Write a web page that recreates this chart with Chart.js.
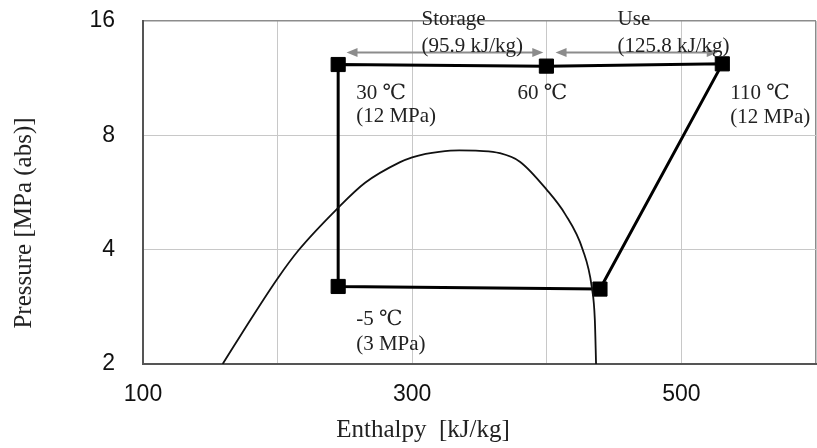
<!DOCTYPE html>
<html>
<head>
<meta charset="utf-8">
<script src="https://cdn.jsdelivr.net/npm/chart.js@4"></script>
<style>
  html, body { margin: 0; padding: 0; background: #fff; overflow: hidden; }
  #chartDiv { width: 817px; height: 448px; }
  #myChart { display: block; }
</style>
</head>
<body>
<div id="chartDiv"><canvas id="myChart"></canvas></div>
<script>
// saturation dome: enthalpy [kJ/kg] and pressure [MPa]
const domeH = [159.2, 180, 200, 215.4, 244.6, 265, 291, 300, 310, 320, 335, 350, 365, 380, 400, 413.5, 426.7, 433.4, 435.7, 436.6];
const domeP = [2.0, 2.62, 3.36, 3.98, 5.14, 6.0, 6.8, 7.0, 7.15, 7.24, 7.3, 7.28, 7.18, 6.82, 5.75, 4.97, 4.0, 3.19, 2.61, 2.0];

// cycle states (last one closes the loop)
const cycleH = [245, 399.7, 530.4, 439.5, 245, 245];
const cycleP = [12.29, 12.17, 12.34, 3.15, 3.2, 12.29];
const stateTemp = ["30 ℃", "60 ℃", "110 ℃", "", "-5 ℃"];
const statePress = ["(12 MPa)", "", "(12 MPa)", "", "(3 MPa)"];

// storage / use arrows
const processName = ["Storage", "Use"];
const processDuty = ["(95.9 kJ/kg)", "(125.8 kJ/kg)"];
const processFrom = [251.2, 406.5];
const processTo = [397.4, 527];
const processP = [13.22, 13.22];

const xTicks = [100, 200, 300, 400, 500, 600];
const xLabeled = [100, 300, 500];
const yTicks = [2, 4, 8, 16];

const serif = "'Liberation Serif', 'DejaVu Serif', serif";
const sans = "'Liberation Sans', Arial, sans-serif";

const notes = {
  id: "notes",
  afterDatasetsDraw(chart) {
    const c = chart.ctx;
    const x = chart.scales.x, y = chart.scales.y;
    c.save();

    // arrows
    c.strokeStyle = "#8c8c8c";
    c.fillStyle = "#8c8c8c";
    c.lineWidth = 2;
    for (let i = 0; i < processFrom.length; i++) {
      const x1 = x.getPixelForValue(processFrom[i]);
      const x2 = x.getPixelForValue(processTo[i]);
      const py = y.getPixelForValue(processP[i]);
      c.beginPath();
      c.moveTo(x1 + 6, py);
      c.lineTo(x2 - 6, py);
      c.stroke();
      c.beginPath();
      c.moveTo(x1, py); c.lineTo(x1 + 11, py - 4.5); c.lineTo(x1 + 11, py + 4.5); c.closePath();
      c.moveTo(x2, py); c.lineTo(x2 - 11, py - 4.5); c.lineTo(x2 - 11, py + 4.5); c.closePath();
      c.fill();
    }

    c.fillStyle = "#222";
    c.font = "21px " + serif;
    c.textAlign = "left";
    c.textBaseline = "alphabetic";

    const procDx = [75, 62];
    for (let i = 0; i < processName.length; i++) {
      const x1 = x.getPixelForValue(processFrom[i]);
      const py = y.getPixelForValue(processP[i]);
      c.fillText(processName[i], x1 + procDx[i], py - 27.5);
      c.fillText(processDuty[i], x1 + procDx[i], py - 0.5);
    }

    const off = [[18, 34.5, 23], [-29, 33, 23], [8, 35, 24], null, [18, 38.5, 25]];
    for (let i = 0; i < stateTemp.length; i++) {
      if (!off[i]) continue;
      const px = x.getPixelForValue(cycleH[i]);
      const py = y.getPixelForValue(cycleP[i]);
      c.fillText(stateTemp[i], px + off[i][0], py + off[i][1]);
      if (statePress[i]) c.fillText(statePress[i], px + off[i][0], py + off[i][1] + off[i][2]);
    }

    // axis titles
    c.font = "25px " + serif;
    c.textAlign = "center";
    c.fillText("Enthalpy  [kJ/kg]", 423, 437);
    c.translate(24, 223);
    c.rotate(-Math.PI / 2);
    c.textBaseline = "middle";
    c.fillText("Pressure [MPa (abs)]", 0, 0);
    c.restore();
  }
};

function noPad(s) {
  s.paddingTop = 0;
  s.paddingBottom = 0;
  s.paddingLeft = 0;
  s.paddingRight = 0;
}

const ctx = document.getElementById("myChart");

new Chart(ctx, {
  type: "scatter",
  data: {
    datasets: [
      {
        label: "dome",
        data: domeH.map((h, i) => ({ x: h, y: domeP[i] })),
        showLine: true,
        borderColor: "#111",
        borderWidth: 1.8,
        pointRadius: 0,
        cubicInterpolationMode: "monotone",
      },
      {
        label: "cycle",
        data: cycleH.map((h, i) => ({ x: h, y: cycleP[i] })),
        showLine: true,
        borderColor: "#000",
        backgroundColor: "#000",
        borderWidth: 3,
        pointStyle: "rect",
        pointRadius: cycleH.map((h, i) => (i === cycleH.length - 1 ? 0 : 10)),
        pointBorderWidth: 1,
        tension: 0,
      },
    ],
  },
  options: {
    responsive: true,
    maintainAspectRatio: false,
    animation: false,
    layout: { autoPadding: false, padding: { top: 21, right: 1, left: 0, bottom: 0 } },
    plugins: { legend: { display: false }, tooltip: { enabled: false } },
    scales: {
      x: {
        type: "linear",
        min: 100,
        max: 600,
        afterBuildTicks: (s) => { s.ticks = xTicks.map((v) => ({ value: v })); },
        afterFit: (s) => { s.height = 84; noPad(s); },
        ticks: {
          maxRotation: 0,
          padding: 17,
          color: "#111",
          font: { family: sans, size: 23 },
          callback: (v) => (xLabeled.includes(v) ? String(v) : ""),
        },
        grid: {
          drawTicks: false,
          color: (c) => (c.tick && c.tick.value === 600 ? "#8c8c8c" : "#c8c8c8"),
          lineWidth: (c) => (c.tick && c.tick.value === 600 ? 1.5 : 1),
        },
        border: { color: "#555", width: 2 },
      },
      y: {
        type: "logarithmic",
        min: 2,
        max: 16,
        afterBuildTicks: (s) => { s.ticks = yTicks.map((v) => ({ value: v })); },
        afterFit: (s) => { s.width = 143; noPad(s); },
        ticks: {
          padding: 28,
          color: "#111",
          font: { family: sans, size: 23 },
          callback: (v) => String(v),
        },
        grid: {
          drawTicks: false,
          color: (c) => (c.tick && c.tick.value === 16 ? "#8c8c8c" : "#c8c8c8"),
          lineWidth: (c) => (c.tick && c.tick.value === 16 ? 1.5 : 1),
        },
        border: { color: "#555", width: 2 },
      },
    },
  },
  plugins: [notes],
});
</script>
</body>
</html>
